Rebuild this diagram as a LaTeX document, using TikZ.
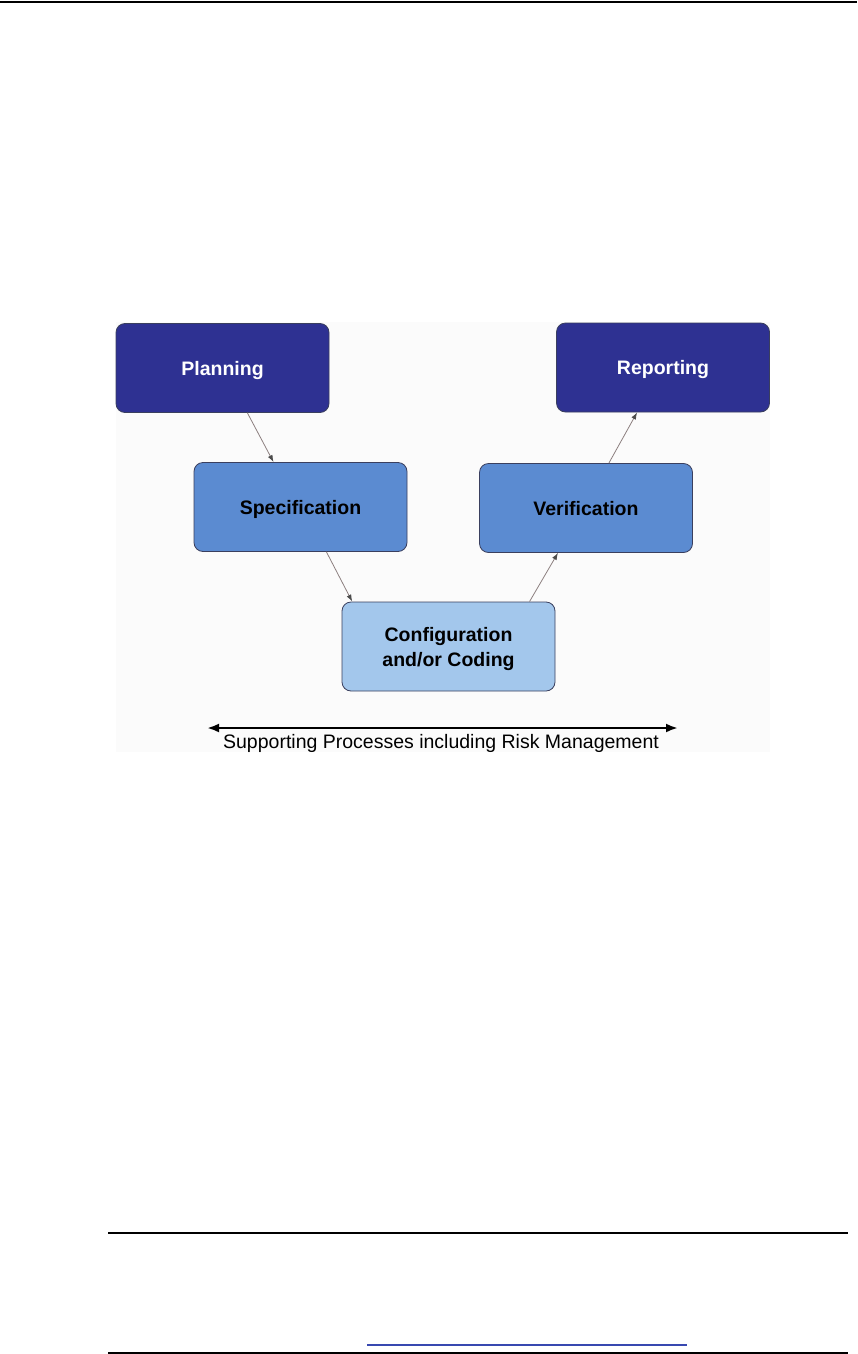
\documentclass[tikz,border=0pt]{standalone}
\usepackage{fontspec}
\setmainfont{Liberation Sans}
\usepackage{xcolor}
\usetikzlibrary{arrows.meta}
\tikzset{>=latex}

\definecolor{navy}{HTML}{2E3192}
\definecolor{midblue}{HTML}{5B8BD1}
\definecolor{lightblue}{HTML}{A3C7EC}
\definecolor{boxline}{HTML}{3A3F5E}
\definecolor{linkline}{HTML}{8C7F7F}
\definecolor{rulelink}{HTML}{3848B0}

\begin{document}
\begin{tikzpicture}[
    x=1pt, y=-1pt,
    phase/.style={draw=boxline, line width=0.8pt, rectangle, rounded corners=9pt,
        minimum width=213pt, minimum height=89pt, inner sep=0pt, align=center,
        text depth=0pt, font=\fontsize{19.5}{25}\selectfont\bfseries},
    link/.style={-{Latex[length=7pt,width=5pt,color=black!70]}, draw=linkline, line width=0.8pt}
]
    \useasboundingbox (0,0) rectangle (857,1354);

    % Page rules and backdrop
    \draw[line width=2pt] (0,2) -- (857,2);
    \fill[black!1.5] (116,322) rectangle (770,752);
    \draw[line width=1.5pt] (108,1233) -- (848,1233);
    \draw[line width=1.5pt, rulelink] (367,1345) -- (687,1345);
    \draw[line width=1.5pt] (108,1353) -- (848,1353);

    % Nodes
    \node (Planning) [phase, fill=navy, text=white] at (222.5,368) {Planning};
    \node (Reporting) [phase, fill=navy, text=white] at (663,367.5) {Reporting};
    \node (Spec) [phase, fill=midblue] at (300.5,507) {Specification};
    \node (Verif) [phase, fill=midblue] at (586,508) {Verification};
    \node (Config) [phase, fill=lightblue] at (448.5,646.5) {Configuration\\and/or Coding};

    % Arrows
    \draw[link] (Planning.-61) -- (Spec.121);
    \draw[link] (Spec.-60) -- (Config.155);
    \draw[link] (Config.29) -- (Verif.-122);
    \draw[link] (Verif.63) -- (Reporting.-120);

    % Supporting processes
    \coordinate (LeftEnd) at (207,728);
    \coordinate (RightEnd) at (678,728);
    \draw[{Latex[length=12pt,width=9pt]}-{Latex[length=12pt,width=9pt]}, line width=2.4pt]
        (LeftEnd) -- (RightEnd);
    \node (Support) [anchor=base, inner sep=0pt, font=\fontsize{19.5}{22}\selectfont] at (441,748)
        {Supporting Processes including Risk Management};
\end{tikzpicture}
\end{document}
